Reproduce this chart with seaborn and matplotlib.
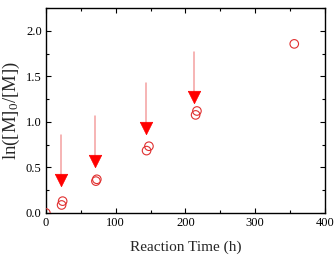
import matplotlib
matplotlib.use("Agg")
import matplotlib.pyplot as plt
import seaborn as sns
import pandas as pd
from matplotlib.ticker import MultipleLocator

# Data
time_h = [0, 22.5, 24, 71.7, 73, 144.3, 147.7, 214.6, 216.5, 356]
ln_ratio = [0.0, 0.088, 0.13, 0.35, 0.37, 0.685, 0.733, 1.077, 1.12, 1.857]

arrow_time = [21, 70, 143, 213]
arrow_top = [0.86, 1.06, 1.43, 1.77]
arrow_head = [0.36, 0.57, 0.93, 1.27]

sns.set_theme(style="ticks")
plt.rcParams['font.family'] = ['Liberation Serif', 'DejaVu Serif']
plt.rcParams['mathtext.default'] = 'regular'

fig = plt.figure(figsize=(3.35, 2.61), dpi=100)
ax = fig.add_axes([0.137, 0.184, 0.833, 0.785])

df = pd.DataFrame({"t": time_h, "y": ln_ratio})
arr = pd.DataFrame({"t": arrow_time, "top": arrow_top, "head": arrow_head})

# arrow shafts
for _, r in arr.iterrows():
    sns.lineplot(x=[r["t"], r["t"]], y=[r["top"], r["head"] + 0.04], ax=ax,
                 color="#f4a0a0", linewidth=1.1, estimator=None, sort=False)
# arrow heads
sns.scatterplot(data=arr, x="t", y="head", ax=ax, marker="v", s=80,
                color="#ff0000", edgecolor="#ff0000", linewidth=0.5, zorder=4)
# data points
sns.scatterplot(data=df, x="t", y="y", ax=ax, marker="o", s=38,
                facecolor="none", edgecolor="#e03030", linewidth=0.8, zorder=5,
                clip_on=True)

ax.set_xlim(0, 400)
ax.set_ylim(0, 2.25)
ax.xaxis.set_major_locator(MultipleLocator(100))
ax.xaxis.set_minor_locator(MultipleLocator(50))
ax.yaxis.set_major_locator(MultipleLocator(0.5))
ax.yaxis.set_minor_locator(MultipleLocator(0.25))
ax.tick_params(which="both", direction="in", top=True, right=True,
               labelsize=9, colors="black", width=0.8)
ax.tick_params(which="major", length=3.5, pad=3)
ax.tick_params(which="minor", length=2)
ax.set_xticklabels([f"{int(v)}" for v in ax.get_xticks()])
ax.set_yticklabels([f"{v:.1f}" for v in ax.get_yticks()])
for s in ax.spines.values():
    s.set_visible(True)
    s.set_color("black")
    s.set_linewidth(1.0)

ax.set_xlabel("Reaction Time (h)", fontsize=11, labelpad=8)
ax.set_ylabel("ln([M]$_0$/[M])", fontsize=13.5, labelpad=3)
if ax.get_legend():
    ax.get_legend().remove()

fig.savefig("out.png", dpi=100)
